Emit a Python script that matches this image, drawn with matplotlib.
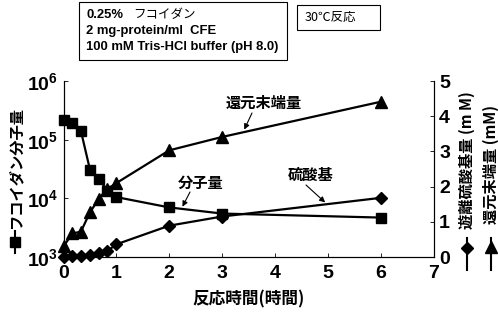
import math
import matplotlib
matplotlib.use("Agg")
import matplotlib.pyplot as plt
from matplotlib.lines import Line2D
from matplotlib.patches import Rectangle
from matplotlib.ticker import FixedLocator, FuncFormatter, NullLocator

plt.rcParams['font.family'] = ['Liberation Sans', 'Noto Sans CJK JP', 'DejaVu Sans']
plt.rcParams['mathtext.fontset'] = 'custom'
plt.rcParams['mathtext.rm'] = 'Liberation Sans:bold'
plt.rcParams['mathtext.bf'] = 'Liberation Sans:bold'

# data
time_h = [0, 0.17, 0.33, 0.5, 0.67, 0.83, 1, 2, 3, 6]
mol_weight = [2.15e5, 1.9e5, 1.4e5, 3.1e4, 2.15e4, 1.35e4, 1.05e4, 7.0e3, 5.5e3, 4.7e3]
reducing_end = [0.3, 0.67, 0.72, 1.27, 1.65, 1.93, 2.1, 3.03, 3.41, 4.41]
sulfate = [0.0, 0.02, 0.03, 0.05, 0.1, 0.17, 0.36, 0.89, 1.15, 1.68]
x_ticks = [0, 1, 2, 3, 4, 5, 6, 7]
left_ticks = [1e3, 1e4, 1e5, 1e6]
right_ticks = [0, 1, 2, 3, 4, 5]

W, H = 498, 327
fig = plt.figure(figsize=(W / 100, H / 100), dpi=100)
L, R, B, T = 63.5, 433.5, 257, 81
ax = fig.add_axes([L / W, 1 - B / H, (R - L) / W, (B - T) / H])
ax2 = ax.twinx()

lw = 1.6
ax.plot(time_h, mol_weight, color='black', lw=lw, marker='s', ms=7.5, clip_on=False, zorder=3)
ax.set_yscale('log')
ax.set_ylim(1e3, 1e6)
ax.set_xlim(0, 7)
ax.yaxis.set_major_locator(FixedLocator(left_ticks))
ax.yaxis.set_minor_locator(NullLocator())
ax.yaxis.set_major_formatter(FuncFormatter(lambda v, p: r'$\mathbf{10^{%d}}$' % round(math.log10(v))))
ax.set_xticks(x_ticks)
ax.set_xticklabels([str(t) for t in x_ticks], fontsize=14, fontweight='bold')

ax2.plot(time_h, reducing_end, color='black', lw=lw, marker='^', ms=9, clip_on=False, zorder=3)
ax2.plot(time_h, sulfate, color='black', lw=lw, marker='D', ms=6, clip_on=False, zorder=3)
ax2.set_ylim(0, 5)
ax2.set_yticks(right_ticks)
ax2.set_yticklabels([str(t) for t in right_ticks], fontsize=14, fontweight='bold')

for a in (ax, ax2):
    a.spines['top'].set_visible(False)
    for s in a.spines.values():
        s.set_linewidth(0.8)
ax.tick_params(axis='x', direction='in', length=3, width=0.6, pad=6)
ax.tick_params(axis='y', direction='in', length=3, width=0.6, labelsize=14, pad=4)
ax2.tick_params(axis='y', direction='in', length=3, width=0.6, pad=4)

ax.set_xlabel('反応時間(時間)', fontsize=12, fontweight='bold', family=['Noto Sans CJK JP'], labelpad=6)

# annotations: text at figure pixel positions, arrows to the curves
jp = dict(fontsize=11, fontweight='bold', family=['Noto Sans CJK JP'], ha='left', va='center')
arr = dict(arrowstyle='-|>', color='black', lw=0.8, mutation_scale=8, shrinkA=0, shrinkB=0)
fig.text(226 / W, 1 - 103 / H, '還元末端量', **jp)
ax2.annotate('', xy=(3.42, 3.62), xycoords='data', xytext=(252, H - 113),
             textcoords='figure pixels', arrowprops=arr)
fig.text(178 / W, 1 - 183 / H, '分子量', **jp)
ax.annotate('', xy=(2.25, 7.2e3), xycoords='data', xytext=(190, H - 192),
            textcoords='figure pixels', arrowprops=arr)
fig.text(288 / W, 1 - 175 / H, '硫酸基', **jp)
ax2.annotate('', xy=(4.95, 1.55), xycoords='data', xytext=(306, H - 185),
             textcoords='figure pixels', arrowprops=arr)

# left y label with legend symbol
fig.text(15 / W, 1 - 168 / H, 'フコイダン分子量', rotation=90, ha='center', va='center',
         fontsize=11, fontweight='bold', family=['Noto Sans CJK JP'])
fig.add_artist(Line2D([15 / W, 15 / W], [1 - 231 / H, 1 - 253 / H], color='black', lw=1.5))
fig.add_artist(Line2D([15 / W], [1 - 242 / H], color='black', marker='s', ms=7))

# right labels
fig.text(467 / W, 1 - 160 / H, '遊離硫酸基量 (m M)', rotation=90, ha='center', va='center',
         fontsize=11, fontweight='bold', family=['Noto Sans CJK JP'])
fig.add_artist(Line2D([467 / W, 467 / W], [1 - 238 / H, 1 - 270 / H], color='black', lw=1.5))
fig.add_artist(Line2D([467 / W], [1 - 248 / H], color='black', marker='D', ms=6))
fig.text(491 / W, 1 - 165 / H, '還元末端量 (mM)', rotation=90, ha='center', va='center',
         fontsize=11, fontweight='bold', family=['Noto Sans CJK JP'])
fig.add_artist(Line2D([491 / W, 491 / W], [1 - 238 / H, 1 - 270 / H], color='black', lw=1.5))
fig.add_artist(Line2D([491 / W], [1 - 247 / H], color='black', marker='^', ms=9))

# info boxes
fig.add_artist(Rectangle((79 / W, 1 - 60 / H), (287 - 79) / W, (60 - 2) / H, transform=fig.transFigure,
                         fill=False, edgecolor='black', lw=0.8))
fig.text(86 / W, 1 - 15 / H, '0.25%', fontsize=9.4, fontweight='bold', va='center')
fig.text(133 / W, 1 - 15 / H, 'フコイダン', fontsize=9, va='center', family=['Noto Sans CJK JP'])
fig.text(86 / W, 1 - 31 / H, '2 mg-protein/ml  CFE', fontsize=9.4, fontweight='bold', va='center')
fig.text(86 / W, 1 - 47 / H, '100 mM Tris-HCl buffer (pH 8.0)', fontsize=9.4, fontweight='bold', va='center')

fig.add_artist(Rectangle((297 / W, 1 - 30 / H), (380 - 297) / W, (30 - 5) / H, transform=fig.transFigure,
                         fill=False, edgecolor='black', lw=0.8))
fig.text(305 / W, 1 - 17 / H, '30℃反応', fontsize=9, va='center', family=['Noto Sans CJK JP', 'DejaVu Sans'])

fig.savefig('out.png', dpi=100)
